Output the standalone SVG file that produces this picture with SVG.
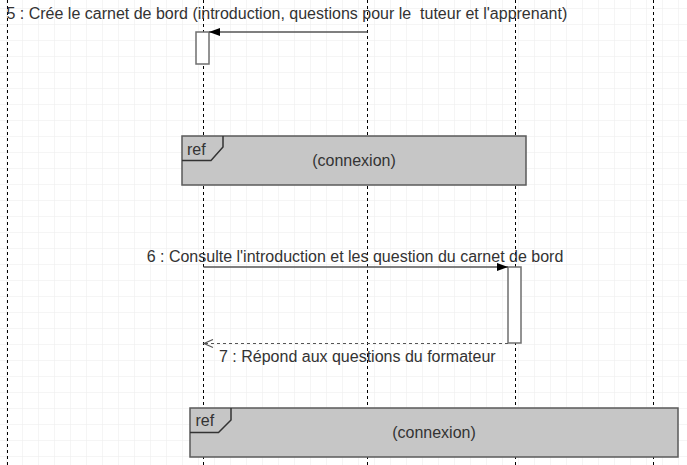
<svg xmlns="http://www.w3.org/2000/svg" width="687" height="465" viewBox="0 0 687 465">
<style>
.lifeline{stroke:#000;stroke-width:1;stroke-dasharray:3,3;fill:none}
.act{fill:#fff;stroke:#6f6f6f;stroke-width:1.5}
.msg{stroke:#555;stroke-width:1.5;fill:none}
.ret{stroke:#555;stroke-width:1.2;fill:none;stroke-dasharray:3,3}
.refbox{fill:#c6c6c6;stroke:#5a5a5a;stroke-width:1.5}
.tag{fill:none;stroke:#333;stroke-width:1.5}
text{font-family:"Liberation Sans",Arial,sans-serif;font-size:16px;fill:#333;white-space:pre}
</style>
<defs>
<pattern id="grid" x="6" y="8" width="16" height="16" patternUnits="userSpaceOnUse">
<path d="M0 0H16M0 0V16" stroke="#ebebeb" stroke-width="1" fill="none"/>
</pattern>
<marker id="filled" markerWidth="12" markerHeight="10" refX="11" refY="4.5" orient="auto" markerUnits="userSpaceOnUse">
<path d="M0 0.5L11 4.5L0 8.5Z" fill="#000"/>
</marker>
<marker id="open" markerWidth="12" markerHeight="10" refX="10" refY="5" orient="auto" markerUnits="userSpaceOnUse">
<path d="M1 1L10 5L1 9" fill="none" stroke="#555" stroke-width="1.2"/>
</marker>
</defs>
<rect width="687" height="465" fill="#fff"/>
<rect width="687" height="465" fill="url(#grid)"/>
<g id="lifelines">
<line class="lifeline" x1="7.5" y1="0" x2="7.5" y2="465"/>
<line class="lifeline" x1="203.5" y1="0" x2="203.5" y2="465"/>
<line class="lifeline" x1="367.5" y1="0" x2="367.5" y2="465"/>
<line class="lifeline" x1="515.5" y1="0" x2="515.5" y2="465"/>
<line class="lifeline" x1="653.5" y1="0" x2="653.5" y2="465"/>
</g>
<g id="activation1"><rect class="act" x="196" y="32" width="13" height="32"/></g>
<g id="activation2"><rect class="act" x="508" y="267" width="13" height="76"/></g>
<g id="ref1">
<rect class="refbox" x="182" y="136" width="344" height="49"/>
<path class="tag" d="M182 160.5H211L223 147V136"/>
<text x="187" y="154.5">ref</text>
<text x="354" y="166" text-anchor="middle">(connexion)</text>
</g>
<g id="ref2">
<rect class="refbox" x="190" y="408" width="488" height="49"/>
<path class="tag" d="M190 432.5H218.5L231 420V408"/>
<text x="195.5" y="425.5">ref</text>
<text x="434" y="438" text-anchor="middle">(connexion)</text>
</g>
<g id="connectors">
<line class="msg" x1="367.5" y1="32" x2="209" y2="32" marker-end="url(#filled)"/>
<text x="6.5" y="18.5" xml:space="preserve">5 : Crée le carnet de bord (introduction, questions pour le  tuteur et l'apprenant)</text>
<line class="msg" x1="203.5" y1="267" x2="508" y2="267" marker-end="url(#filled)"/>
<text x="355" y="262" text-anchor="middle">6 : Consulte l'introduction et les question du carnet de bord</text>
<line class="ret" x1="508" y1="343.5" x2="204" y2="343.5" marker-end="url(#open)"/>
<text x="219" y="361.5">7 : Répond aux questions du formateur</text>
</g>
</svg>
